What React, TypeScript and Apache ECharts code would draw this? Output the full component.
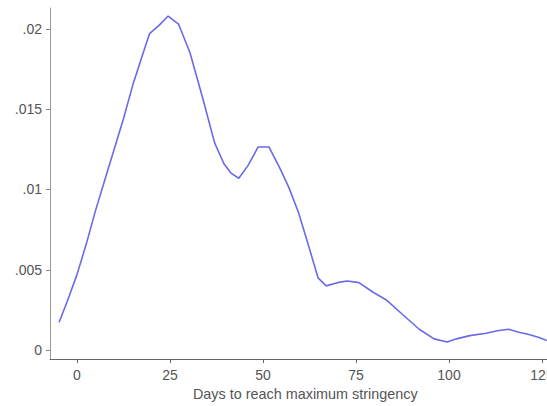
import React, { useEffect, useRef } from "react";
import * as echarts from "echarts";

const days: number[] = [
  -4.8, -2.5, 0, 2.5, 5, 7.5, 10, 12.5, 15, 17.5, 19.5, 22, 24.5, 27.3, 30.4,
  33.9, 37, 39.5, 41.5, 43.5, 46, 48.7, 51.6, 54.6, 57, 59.5, 62, 64.8, 67, 70,
  72.6, 75.8, 79.6, 83.3, 87.6, 92, 96, 99.5, 102, 105.6, 110, 113, 116, 119,
  121, 124, 126.3,
];
const density: number[] = [
  0.00173, 0.0031, 0.0047, 0.0066, 0.0087, 0.0106, 0.0125, 0.0144, 0.0165,
  0.0183, 0.0197, 0.0202, 0.0208, 0.0203, 0.0185, 0.0156, 0.0129, 0.0116,
  0.011, 0.0107, 0.0115, 0.01265, 0.01265, 0.0113, 0.0101, 0.0086, 0.0067,
  0.0045, 0.004, 0.0042, 0.0043, 0.0042, 0.0036, 0.0031, 0.0022, 0.0013,
  0.0007, 0.0005, 0.0007, 0.0009, 0.00105, 0.0012, 0.0013, 0.0011, 0.001,
  0.0008, 0.0006,
];
const xTicks: number[] = [0, 25, 50, 75, 100, 125];
const yTicks: number[] = [0, 0.005, 0.01, 0.015, 0.02];
const yTickLabels: string[] = ["0", ".005", ".01", ".015", ".02"];
const xTitle = "Days to reach maximum stringency";

export default function App() {
  const ref = useRef<HTMLDivElement>(null);
  useEffect(() => {
    if (!ref.current) return;
    const chart = echarts.init(ref.current, undefined, { renderer: "svg" });
    const font = "'Liberation Sans', Arial, sans-serif";
    chart.setOption({
      animation: false,
      backgroundColor: "#ffffff",
      grid: { left: 50, top: 8, bottom: 44, right: 39.4, containLabel: false },
      xAxis: {
        type: "value",
        min: -7.25,
        max: 130,
        name: xTitle,
        nameLocation: "middle",
        nameGap: 26,
        nameTextStyle: { color: "#555", fontSize: 14.4, fontFamily: font },
        axisLine: { show: true, onZero: false, lineStyle: { color: "#666", width: 1 } },
        axisTick: { show: true, customValues: xTicks, length: 4, lineStyle: { color: "#666" } },
        axisLabel: {
          customValues: xTicks,
          color: "#555",
          fontSize: 14,
          fontFamily: font,
          margin: 9,
        },
        splitLine: { show: false },
      },
      yAxis: {
        type: "value",
        min: -0.00056,
        max: 0.0213,
        axisLine: { show: true, onZero: false, lineStyle: { color: "#999", width: 1 } },
        axisTick: { show: true, customValues: yTicks, length: 4, lineStyle: { color: "#888" } },
        axisLabel: {
          customValues: yTicks,
          color: "#555",
          fontSize: 14,
          fontFamily: font,
          margin: 8,
          formatter: (v: number) => {
            const i = yTicks.findIndex((t) => Math.abs(t - v) < 1e-9);
            return i >= 0 ? yTickLabels[i] : "";
          },
        },
        splitLine: { show: false },
      },
      series: [
        {
          type: "line",
          data: days.map((d, i) => [d, density[i]]),
          showSymbol: false,
          smooth: false,
          lineStyle: { color: "#6a6ae8", width: 1.6 },
        },
      ],
    });
    return () => chart.dispose();
  }, []);
  return (
    <div style={{ position: "absolute", left: 0, top: 0, width: 547, height: 406, overflow: "hidden", background: "#fff" }}>
      <div ref={ref} style={{ width: 600, height: 406 }} />
    </div>
  );
}
